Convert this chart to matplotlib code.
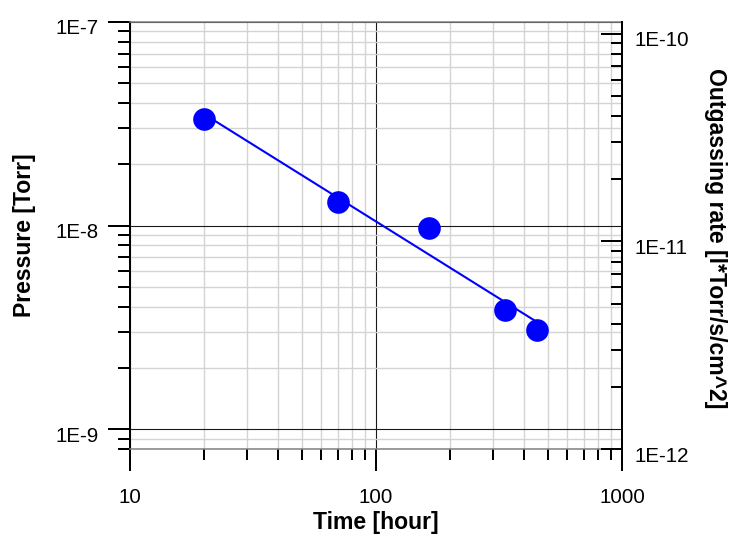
import numpy as np
import matplotlib
matplotlib.use("Agg")
import matplotlib.pyplot as plt
from matplotlib import font_manager
from matplotlib.ticker import FixedLocator, FuncFormatter, NullFormatter
from matplotlib.transforms import ScaledTranslation

# Measured pressure decay during pump-down
time_hours = [20, 70, 164, 335, 451]
pressure_torr = [3.34e-8, 1.30e-8, 9.7e-9, 3.84e-9, 3.06e-9]

# Axis ranges and labelled decades
x_lim = (10, 1000)
p_lim = (8e-10, 1e-7)
q_lim = (1e-12, 1.14e-10)
x_major = [10, 100, 1000]
p_major = [1e-9, 1e-8, 1e-7]
q_major = [1e-12, 1e-11, 1e-10]

x_label = "Time [hour]"
p_label = "Pressure [Torr]"
q_label = "Outgassing rate [l*Torr/s/cm^2]"

BLUE = "#0000ff"

plt.rcParams["font.family"] = ["Liberation Sans", "DejaVu Sans"]

names = {f.name for f in font_manager.fontManager.ttflist}
if "Liberation Sans Narrow" in names:
    label_family, label_size = ["Liberation Sans Narrow", "Liberation Sans"], 19.8
else:
    label_family, label_size = ["Liberation Sans", "DejaVu Sans"], 16.6


def minor_positions(lo, hi):
    out = []
    for k in range(int(np.floor(np.log10(lo))) - 1, int(np.ceil(np.log10(hi))) + 1):
        for m in range(2, 10):
            v = m * 10.0 ** k
            if lo * 0.999 <= v <= hi * 1.001:
                out.append(v)
    return out


def sci_label(v, _pos=None):
    return "1E%d" % int(round(np.log10(v)))


def decade_label(v, _pos=None):
    return "%d" % int(round(v))


fig = plt.figure(figsize=(7.4, 5.36), dpi=100)
ax = fig.add_axes([130 / 740, 87 / 536, 492 / 740, 427 / 536])

ax.set_xscale("log")
ax.set_yscale("log")
ax.set_xlim(*x_lim)
ax.set_ylim(*p_lim)

# Power-law fit through the measurements (straight line in log-log)
coef = np.polyfit(np.log10(time_hours), np.log10(pressure_torr), 1)
fit_x = np.array([time_hours[0], time_hours[-1]], dtype=float)
fit_y = 10 ** np.polyval(coef, np.log10(fit_x))
ax.plot(fit_x, fit_y, color=BLUE, lw=1.5, zorder=3)
ax.plot(time_hours, pressure_torr, "o", ms=16.3, color=BLUE, mec="none", zorder=4)

ax.xaxis.set_major_locator(FixedLocator(x_major))
ax.xaxis.set_minor_locator(FixedLocator(minor_positions(*x_lim)))
ax.xaxis.set_major_formatter(FuncFormatter(decade_label))
ax.xaxis.set_minor_formatter(NullFormatter())
ax.yaxis.set_major_locator(FixedLocator(p_major))
ax.yaxis.set_minor_locator(FixedLocator(minor_positions(*p_lim)))
ax.yaxis.set_major_formatter(FuncFormatter(sci_label))
ax.yaxis.set_minor_formatter(NullFormatter())

ax.set_axisbelow(True)
ax.grid(which="minor", color="#d4d4d4", lw=1.0)
ax.grid(which="major", color="#1a1a1a", lw=0.8)

ax.tick_params(axis="x", which="major", direction="out", length=15.8, width=1.44,
               pad=12, labelsize=14.8, top=False)
ax.tick_params(axis="x", which="minor", direction="out", length=8.2, width=1.44, top=False)
ax.tick_params(axis="y", which="major", direction="out", length=15.8, width=1.44,
               pad=6.5, labelsize=14.8, right=False)
ax.tick_params(axis="y", which="minor", direction="out", length=8.6, width=1.44, right=False)

for side in ("top", "bottom"):
    ax.spines[side].set_color("#808080")
    ax.spines[side].set_linewidth(1.1)
ax.spines["left"].set_color("black")
ax.spines["left"].set_linewidth(1.44)
ax.spines["right"].set_visible(False)

# Secondary scale: outgassing rate
ax2 = ax.twinx()
ax2.set_yscale("log")
ax2.set_ylim(*q_lim)
ax2.yaxis.set_major_locator(FixedLocator(q_major))
ax2.yaxis.set_minor_locator(FixedLocator(minor_positions(*q_lim)))
ax2.yaxis.set_major_formatter(FuncFormatter(sci_label))
ax2.yaxis.set_minor_formatter(NullFormatter())
ax2.tick_params(axis="y", which="major", direction="in", length=15.1, width=1.44,
                pad=9, labelsize=14.8)
ax2.tick_params(axis="y", which="minor", direction="in", length=8.0, width=1.44)
for side in ("top", "bottom", "left"):
    ax2.spines[side].set_visible(False)
ax2.spines["right"].set_color("black")
ax2.spines["right"].set_linewidth(1.44)

# Nudge y tick labels slightly below their ticks
shift = ScaledTranslation(0, -0.05, fig.dpi_scale_trans)
for t in ax.yaxis.get_major_ticks():
    t.label1.set_transform(t.label1.get_transform() + shift)
for t in ax2.yaxis.get_major_ticks():
    t.label2.set_transform(t.label2.get_transform() + shift)

fig.text(376 / 740, 1 - 522 / 536, x_label, ha="center", va="center",
         fontsize=label_size, fontweight="bold", family=label_family)
fig.text(24.7 / 740, 1 - 235.5 / 536, p_label, ha="center", va="center", rotation=90,
         fontsize=label_size, fontweight="bold", family=label_family)
fig.text(716 / 740, 1 - 238.5 / 536, q_label, ha="center", va="center", rotation=270,
         fontsize=label_size, fontweight="bold", family=label_family)

fig.savefig("out.png", dpi=100, facecolor="white")
